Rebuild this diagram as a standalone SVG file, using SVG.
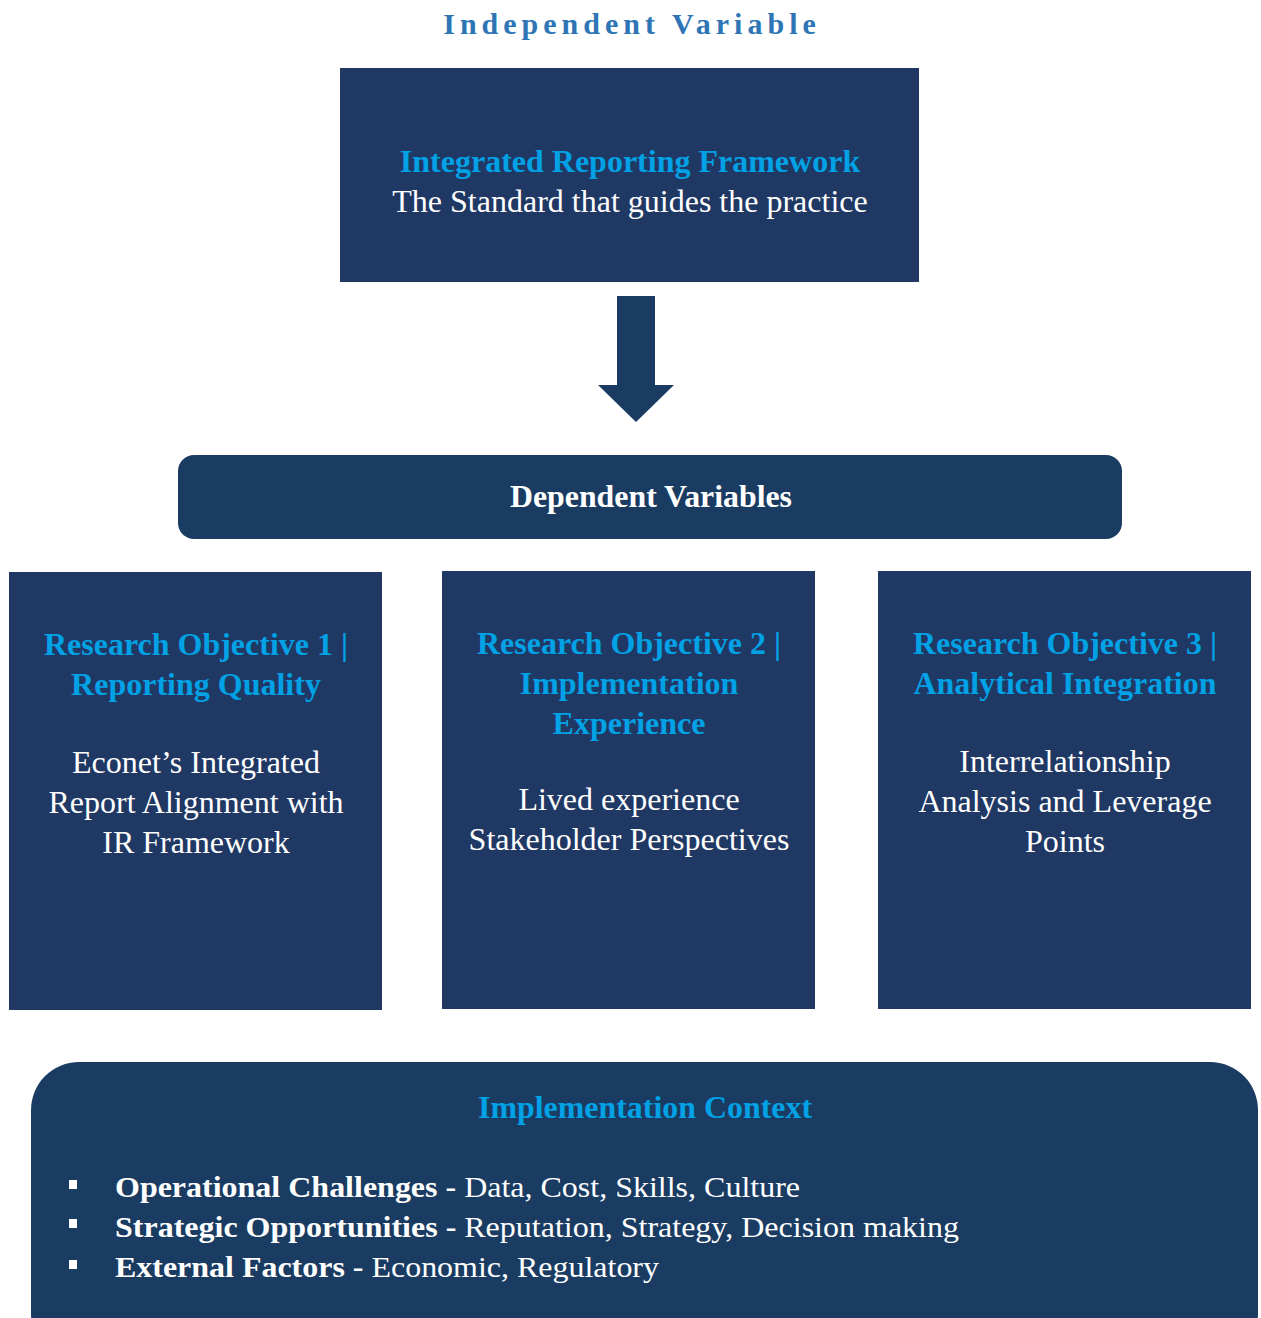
<svg xmlns="http://www.w3.org/2000/svg" width="1261" height="1318" viewBox="0 0 1261 1318">
  <style>
    .box { fill: #203864; }
    .band { fill: #1a3c62; }
    .serif { font-family: "Liberation Serif", "Times New Roman", serif; }
    .head { font-weight: bold; fill: #00a2e5; font-size: 32px; text-anchor: middle; }
    .body { fill: #ffffff; font-size: 32px; text-anchor: middle; }
    .item { fill: #ffffff; font-size: 30px; }
  </style>

  <!-- top heading -->
  <text class="serif" x="632" y="34" text-anchor="middle" font-size="30" font-weight="bold" fill="#2e75b6" letter-spacing="5">Independent Variable</text>

  <!-- independent variable box -->
  <g id="node-framework">
    <rect class="box" x="340" y="68" width="579" height="214"/>
    <text class="serif head" x="630" y="172">Integrated Reporting Framework</text>
    <text class="serif body" x="630" y="212">The Standard that guides the practice</text>
  </g>

  <!-- connectors -->
  <g id="connectors">
    <polygon fill="#1a3c62" points="617,296 655,296 655,385 674,385 636,422 598,385 617,385"/>
  </g>

  <!-- dependent variables band -->
  <g id="node-dependent">
    <rect class="band" x="178" y="455" width="944" height="84" rx="16"/>
    <text class="serif" x="651" y="507" text-anchor="middle" font-size="31" font-weight="bold" fill="#ffffff" textLength="282" lengthAdjust="spacingAndGlyphs">Dependent Variables</text>
  </g>

  <!-- research objective 1 -->
  <g id="node-objective-1">
    <rect class="box" x="9" y="572" width="373" height="438"/>
    <text class="serif head" x="196" y="655">Research Objective 1 |</text>
    <text class="serif head" x="196" y="695">Reporting Quality</text>
    <text class="serif body" x="196" y="773">Econet’s Integrated</text>
    <text class="serif body" x="196" y="813">Report Alignment with</text>
    <text class="serif body" x="196" y="853">IR Framework</text>
  </g>

  <!-- research objective 2 -->
  <g id="node-objective-2">
    <rect class="box" x="442" y="571" width="373" height="438"/>
    <text class="serif head" x="629" y="654">Research Objective 2 |</text>
    <text class="serif head" x="629" y="694">Implementation</text>
    <text class="serif head" x="629" y="734">Experience</text>
    <text class="serif body" x="629" y="810">Lived experience</text>
    <text class="serif body" x="629" y="850">Stakeholder Perspectives</text>
  </g>

  <!-- research objective 3 -->
  <g id="node-objective-3">
    <rect class="box" x="878" y="571" width="373" height="438"/>
    <text class="serif head" x="1065" y="654">Research Objective 3 |</text>
    <text class="serif head" x="1065" y="694">Analytical Integration</text>
    <text class="serif body" x="1065" y="772">Interrelationship</text>
    <text class="serif body" x="1065" y="812">Analysis and Leverage</text>
    <text class="serif body" x="1065" y="852">Points</text>
  </g>

  <!-- implementation context -->
  <g id="node-context">
    <rect class="band" x="31" y="1062" width="1227" height="300" rx="48"/>
    <text class="serif" x="645" y="1118" text-anchor="middle" font-size="31" font-weight="bold" fill="#00a2e5" textLength="334" lengthAdjust="spacingAndGlyphs">Implementation Context</text>
    <rect x="69" y="1180" width="8" height="9" fill="#ffffff"/>
    <rect x="69" y="1219" width="8" height="9" fill="#ffffff"/>
    <rect x="69" y="1260" width="8" height="9" fill="#ffffff"/>
    <text class="serif item" x="115" y="1197" textLength="685" lengthAdjust="spacingAndGlyphs"><tspan font-weight="bold">Operational Challenges - </tspan>Data, Cost, Skills, Culture</text>
    <text class="serif item" x="115" y="1237" textLength="844" lengthAdjust="spacingAndGlyphs"><tspan font-weight="bold">Strategic Opportunities - </tspan>Reputation, Strategy, Decision making</text>
    <text class="serif item" x="115" y="1277" textLength="544" lengthAdjust="spacingAndGlyphs"><tspan font-weight="bold">External Factors - </tspan>Economic, Regulatory</text>
  </g>
</svg>
